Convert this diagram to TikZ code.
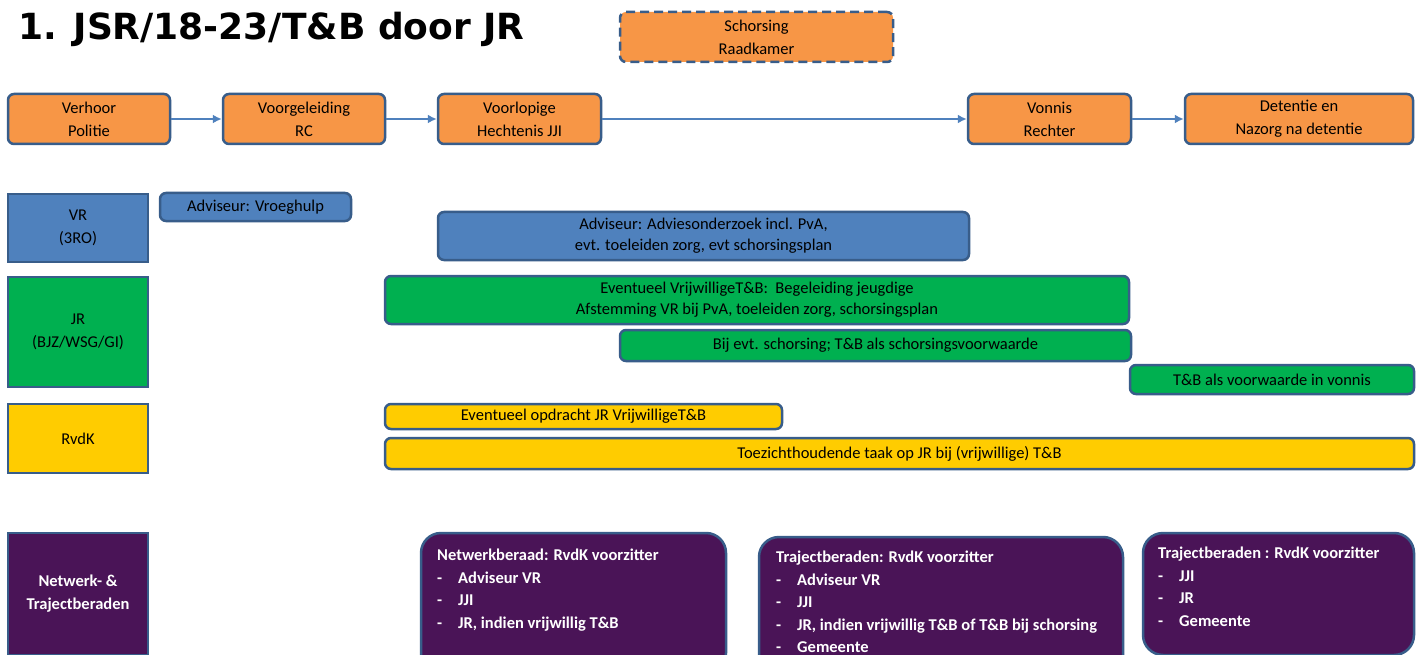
\documentclass[tikz,border=0pt]{standalone}
\usepackage{fontspec}
\setmainfont{Carlito}
\newfontfamily\titlefont{DejaVu Sans}
\usetikzlibrary{arrows.meta}
\definecolor{orng}{HTML}{F79646}
\definecolor{blu}{HTML}{4F81BD}
\definecolor{bord}{HTML}{385D8A}
\definecolor{grn}{HTML}{00B050}
\definecolor{yel}{HTML}{FFCC00}
\definecolor{purp}{HTML}{4A1457}
\begin{document}
\begin{tikzpicture}[x=1pt,y=1pt,
  box/.style={draw=bord, line width=2.5pt, rounded corners=6pt, align=center, inner sep=0pt,
    font=\fontsize{16.5}{23}\selectfont, text=black},
  stage/.style={box, fill=orng, minimum height=50},
  lab/.style={draw=bord, line width=2.5pt, align=center, inner sep=0pt, minimum width=140,
    font=\fontsize{16.5}{23}\selectfont},
  pbox/.style={draw=bord, line width=2.5pt, rounded corners=20pt, fill=purp, inner sep=0pt},
  ptext/.style={text=white, align=left, inner sep=0pt, font=\bfseries\fontsize{16.5}{22.5}\selectfont},
  flow/.style={draw=blu, line width=2.5pt, -{Latex[length=9pt,width=9pt]}}
]
\useasboundingbox (0,0) rectangle (1421,-655);
\clip (0,0) rectangle (1421,-655);
\fill[white] (0,0) rectangle (1421,-655);

\node[anchor=base west, inner sep=0pt, font=\titlefont\bfseries\fontsize{36}{36}\selectfont] (title) at (18,-40) {1. JSR/18-23/T\&B door JR};

\node[stage, dashed, dash pattern=on 9pt off 5pt, minimum width=273] (schors) at (756.5,-37) {Schorsing\\Raadkamer};

\node[stage, minimum width=162] (verhoor) at (89,-119) {Verhoor\\Politie};
\node[stage, minimum width=162] (voorg) at (304,-119) {Voorgeleiding\\RC};
\node[stage, minimum width=163] (voorl) at (519.5,-119) {Voorlopige\\Hechtenis JJI};
\node[stage, minimum width=163] (vonnis) at (1049.5,-119) {Vonnis\\Rechter};
\node[stage, minimum width=228] (det) at (1299,-119) {Detentie en\\Nazorg na detentie};

\draw[flow] (verhoor) -- (voorg);
\draw[flow] (voorg) -- (voorl);
\draw[flow] (voorl) -- (vonnis);
\draw[flow] (vonnis) -- (det);

\node[lab, fill=blu, minimum height=68] (vr) at (78,-228) {VR\\(3RO)};
\node[lab, fill=grn, minimum height=110] (jr) at (78,-332) {JR\\(BJZ/WSG/GI)};
\node[lab, fill=yel, minimum height=69] (rvdk) at (78,-438.5) {RvdK};
\node[lab, fill=purp, minimum height=122, text=white, font=\bfseries\fontsize{16.5}{23}\selectfont] (netw) at (78,-594) {Netwerk- \&\\Trajectberaden};

\node[box, fill=blu, minimum width=191, minimum height=28] (vroeg) at (255.5,-207) {Adviseur: Vroeghulp};
\node[box, fill=blu, minimum width=531, minimum height=48, font=\fontsize{16.5}{21}\selectfont] (advies) at (703.5,-236) {Adviseur: Adviesonderzoek incl. PvA,\\evt. toeleiden zorg, evt schorsingsplan};

\node[box, fill=grn, minimum width=744, minimum height=48, font=\fontsize{16.5}{21}\selectfont] (vrijw) at (757,-300) {Eventueel VrijwilligeT\&B:\ \ Begeleiding jeugdige\\Afstemming VR bij PvA, toeleiden zorg, schorsingsplan};
\node[box, fill=grn, minimum width=511, minimum height=31] (schv) at (875.5,-345.5) {Bij evt. schorsing; T\&B als schorsingsvoorwaarde};
\node[box, fill=grn, minimum width=284, minimum height=29] (vonv) at (1272,-379.5) {T\&B als voorwaarde in vonnis};

\node[box, fill=yel, minimum width=397, minimum height=25] (opdr) at (583.5,-416.5) {Eventueel opdracht JR VrijwilligeT\&B};
\node[box, fill=yel, minimum width=1029, minimum height=31] (toez) at (899.5,-453.5) {Toezichthoudende taak op JR bij (vrijwillige) T\&B};

\node[pbox, minimum width=305, minimum height=140] (nb) at (573.5,-603) {};
\node[ptext, anchor=north west] (nbt) at (437,-549) {Netwerkberaad: RvdK voorzitter\\
\makebox[21pt][l]{-}Adviseur VR\\\makebox[21pt][l]{-}JJI\\\makebox[21pt][l]{-}JR, indien vrijwillig T\&B};

\node[pbox, minimum width=364, minimum height=140] (tb1) at (941,-607) {};
\node[ptext, anchor=north west] (tb1t) at (776,-551) {Trajectberaden: RvdK voorzitter\\
\makebox[21pt][l]{-}Adviseur VR\\\makebox[21pt][l]{-}JJI\\\makebox[21pt][l]{-}JR, indien vrijwillig T\&B of T\&B bij schorsing\\\makebox[21pt][l]{-}Gemeente};

\node[pbox, minimum width=271, minimum height=122] (tb2) at (1278.5,-594) {};
\node[ptext, anchor=north west] (tb2t) at (1158,-547) {Trajectberaden : RvdK voorzitter\\
\makebox[21pt][l]{-}JJI\\\makebox[21pt][l]{-}JR\\\makebox[21pt][l]{-}Gemeente};
\end{tikzpicture}
\end{document}
